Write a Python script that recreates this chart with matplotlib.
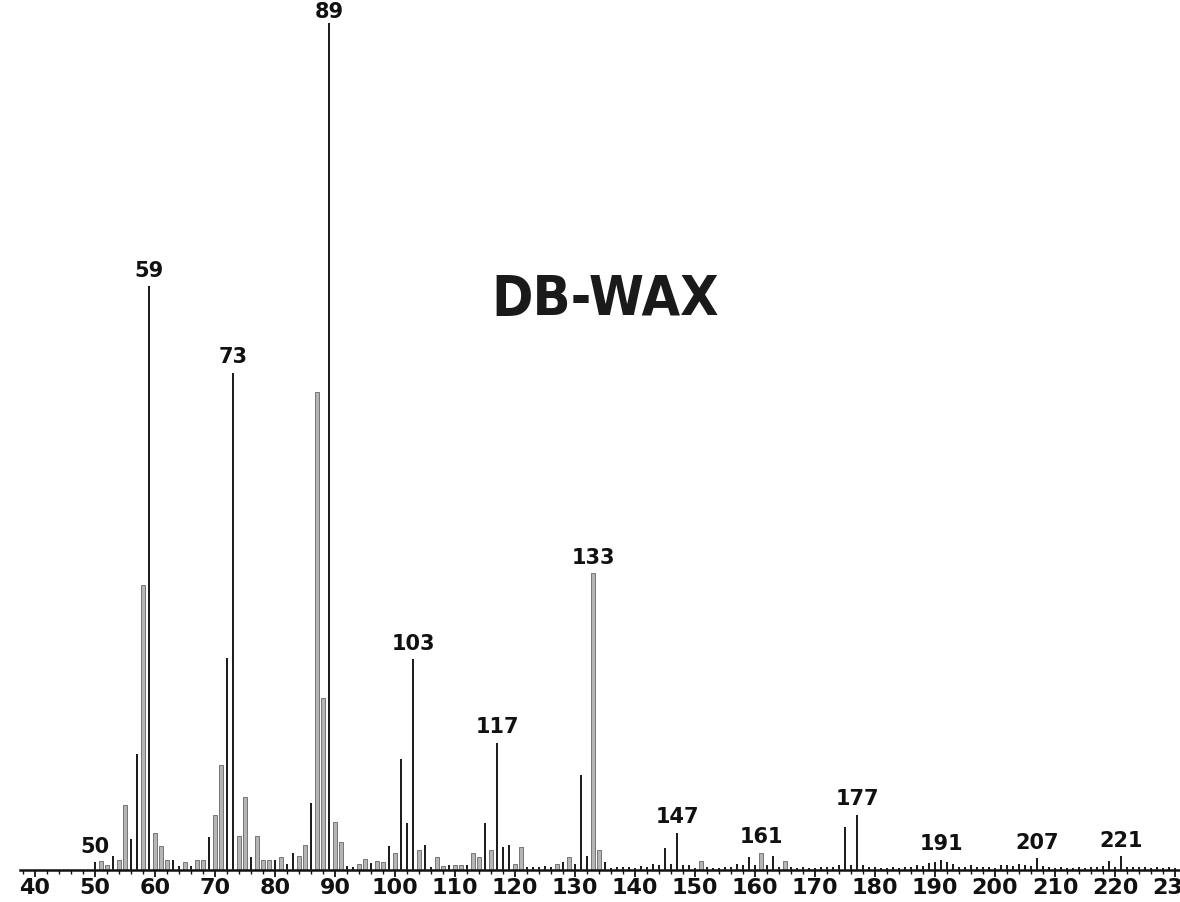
import matplotlib
matplotlib.use('Agg')
import matplotlib.pyplot as plt
from matplotlib.ticker import MultipleLocator
from matplotlib import font_manager

# ---- data ----
mz = list(range(50, 231))
intensity = [
    0.9, 1.1, 0.6, 1.6, 1.2, 7.6, 3.6, 13.6, 33.6, 68.7,        # 50-59
    4.3, 2.8, 1.2, 1.2, 0.5, 1.0, 0.5, 1.2, 1.2, 3.9,           # 60-69
    6.5, 12.3, 25.0, 58.5, 4.0, 8.6, 1.5, 4.0, 1.2, 1.2,        # 70-79
    1.2, 1.5, 0.7, 2.0, 1.6, 3.0, 7.9, 56.3, 20.3, 100.0,       # 80-89
    5.7, 3.3, 0.5, 0.4, 0.7, 1.3, 0.8, 1.1, 1.0, 2.8,           # 90-99
    2.0, 13.1, 5.5, 24.8, 2.4, 3.0, 0.4, 1.5, 0.5, 0.6,         # 100-109
    0.6, 0.6, 0.6, 2.0, 1.5, 5.5, 2.3, 15.0, 2.7, 3.0,          # 110-119
    0.7, 2.7, 0.4, 0.4, 0.4, 0.5, 0.4, 0.7, 1.0, 1.5,           # 120-129
    0.7, 11.2, 1.6, 34.9, 2.4, 1.0, 0.2, 0.3, 0.3, 0.4,         # 130-139
    0.2, 0.5, 0.3, 0.7, 0.6, 2.6, 0.7, 4.4, 0.6, 0.6,           # 140-149
    0.2, 1.1, 0.4, 0.2, 0.2, 0.3, 0.4, 0.7, 0.6, 1.5,           # 150-159
    0.6, 2.0, 0.6, 1.6, 0.4, 1.1, 0.3, 0.2, 0.3, 0.2,           # 160-169
    0.2, 0.3, 0.4, 0.4, 0.6, 5.1, 0.6, 6.5, 0.6, 0.4,           # 170-179
    0.3, 0.2, 0.2, 0.4, 0.2, 0.4, 0.4, 0.6, 0.5, 0.8,           # 180-189
    1.0, 1.2, 0.9, 0.7, 0.4, 0.4, 0.6, 0.4, 0.3, 0.4,           # 190-199
    0.2, 0.6, 0.6, 0.5, 0.7, 0.6, 0.5, 1.4, 0.5, 0.4,           # 200-209
    0.2, 0.3, 0.2, 0.2, 0.3, 0.2, 0.3, 0.4, 0.5, 1.1,           # 210-219
    0.4, 1.6, 0.4, 0.4, 0.3, 0.3, 0.2, 0.3, 0.2, 0.3,           # 220-229
    0.2,                                                        # 230
]
labeled_peaks = [50, 59, 73, 89, 103, 117, 133, 147, 161, 177, 191, 207, 221]
tick_values = list(range(40, 231, 10))
title_text = 'DB-WAX'

# style: masses rendered as light (screened) bars in the scan
light_mz = {51, 52, 54, 55, 58, 60, 61, 62, 65, 67, 68, 70, 71, 74, 75, 77, 78,
            79, 81, 84, 85, 87, 88, 90, 91, 94, 95, 97, 98, 100, 104, 107, 108,
            110, 111, 113, 114, 116, 120, 121, 127, 129, 133, 134, 151, 161, 165}
label_offsets = {89: -1}

# ---- pick a condensed bold font for the title if available ----
cond = [f for f in font_manager.fontManager.ttflist
        if ('Condensed' in f.fname or 'Narrow' in f.fname) and f.weight in ('bold', 700)]
if cond:
    title_kw = dict(fontproperties=font_manager.FontProperties(fname=cond[0].fname, size=40))
else:
    title_kw = dict(fontsize=34, fontweight='bold', family='DejaVu Sans')

# ---- figure ----
fig = plt.figure(figsize=(11.8, 9.02), dpi=100)
ax = fig.add_axes([20 / 1180, 32 / 902, 1160 / 1180, 870 / 902])
ax.set_xlim(37.5, 230.83)
ax.set_ylim(0, 102.4)

dark_x = [m for m in mz if m not in light_mz]
dark_h = [h for m, h in zip(mz, intensity) if m not in light_mz]
light_x = [m for m in mz if m in light_mz]
light_h = [h for m, h in zip(mz, intensity) if m in light_mz]

ax.bar(light_x, light_h, width=0.75, color='#b5b5b5', edgecolor='#666666',
       linewidth=0.6, zorder=2)
ax.bar(dark_x, dark_h, width=0.42, color='#1e1e1e', linewidth=0, zorder=3)

lookup = dict(zip(mz, intensity))
for p in labeled_peaks:
    ax.annotate(str(p), (p, lookup[p]), xytext=(0, label_offsets.get(p, 4)),
                textcoords='offset points', ha='center', va='bottom',
                fontsize=15, fontweight='bold', color='#111111',
                annotation_clip=False, zorder=5,
                bbox=dict(boxstyle='square,pad=0.05', fc='white', ec='none'))

for s in ['left', 'right', 'top']:
    ax.spines[s].set_visible(False)
ax.spines['bottom'].set_linewidth(1.8)
ax.spines['bottom'].set_color('#111111')
ax.yaxis.set_visible(False)

ax.set_xticks(tick_values)
ax.set_xticklabels([str(t) for t in tick_values])
ax.xaxis.set_minor_locator(MultipleLocator(2))
ax.tick_params(axis='x', which='major', direction='out', length=5, width=1.3,
               labelsize=16, pad=1, colors='#111111')
ax.tick_params(axis='x', which='minor', direction='out', length=3, width=1.0,
               colors='#111111')
for lbl in ax.get_xticklabels():
    lbl.set_fontweight('bold')

fig.text(605 / 1180, 1 - 300 / 902, title_text, ha='center', va='center',
         color='#1a1a1a', **title_kw)

fig.savefig('out.png', dpi=100)
